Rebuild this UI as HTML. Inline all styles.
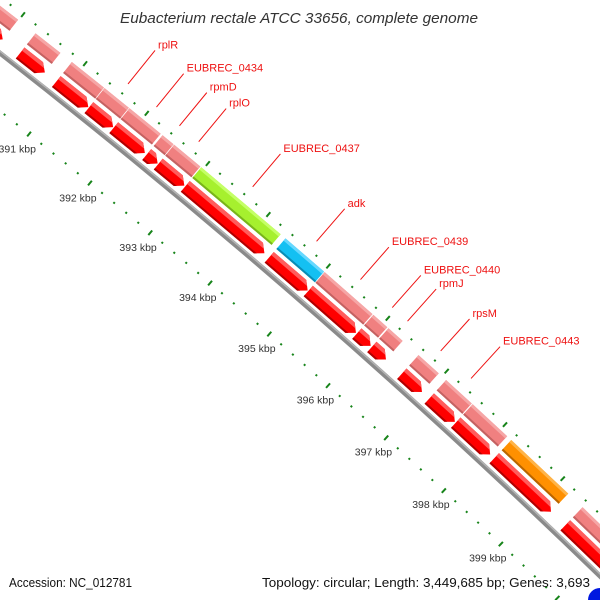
<!DOCTYPE html>
<html><head><meta charset="utf-8"><style>
html,body{margin:0;padding:0;background:#fff;width:600px;height:600px;overflow:hidden;}
svg{display:block;font-family:"Liberation Sans",sans-serif;overflow:hidden;}
</style></head><body>
<svg id="map" width="600" height="600" viewBox="0 0 600 600" xmlns="http://www.w3.org/2000/svg">
<rect x="0" y="0" width="600" height="600" fill="#fff"/>
<g id="rulers"></g>
<g id="backbone"></g>
<g id="features"></g>
<g id="labels"></g>
<text x="120" y="23" font-size="15" font-style="italic" fill="#333" textLength="358" lengthAdjust="spacingAndGlyphs">Eubacterium rectale ATCC 33656, complete genome</text>
<text x="9" y="587" font-size="13" fill="#111" textLength="123" lengthAdjust="spacingAndGlyphs">Accession: NC_012781</text>
<text x="262" y="587" font-size="13" fill="#111" textLength="328" lengthAdjust="spacingAndGlyphs">Topology: circular; Length: 3,449,685 bp; Genes: 3,693</text>
<circle cx="600" cy="600" r="12" fill="#0018e0"/>
</svg>
<script>
// ---- data ----
const geneStarts = [389000, 390270, 390855, 391385, 391790, 392330, 392520, 392965, 394360, 395015, 395835, 396090, 396600, 397070, 397525, 398190, 399430];
const geneEnds   = [389990, 390670, 391375, 391780, 392300, 392510, 392950, 394280, 395005, 395820, 396070, 396330, 396945, 397510, 398120, 399180, 400500];
const geneCategory = ['pink','pink','pink','pink','pink','pink','pink','green','blue','pink','pink','pink','pink','pink','pink','orange','pink'];
const labelGeneIndex = [3, 4, 5, 6, 7, 8, 9, 10, 11, 12, 13];
const labelNames = ['rplR', 'EUBREC_0434', 'rpmD', 'rplO', 'EUBREC_0437', 'adk', 'EUBREC_0439', 'EUBREC_0440', 'rpmJ', 'rpsM', 'EUBREC_0443'];
const rulerStart = 388000;
const rulerEnd = 402000;
const minorStep = 200;
const majorStep = 1000;

// ---- axis (circular map) ----
const CX = -4554, CY = 5884;
function ang(bp){ return (-51.443 + (bp - 391000) * 0.000609) * Math.PI / 180; }
function pt(r, bp){ const a = ang(bp); return [CX + r * Math.cos(a), CY + r * Math.sin(a)]; }
function ptsStr(list){ return list.map(p => p[0].toFixed(2) + ',' + p[1].toFixed(2)).join(' '); }
const NS = 'http://www.w3.org/2000/svg';
function mk(tag, attrs, parent){ const e = document.createElementNS(NS, tag); for (const k in attrs) e.setAttribute(k, attrs[k]); parent.appendChild(e); return e; }

const colors = {
  pink:   ['#f08080', '#f6a6a6', '#c46262'],
  green:  ['#a6f02e', '#c4ff66', '#78b41c'],
  blue:   ['#14c0f2', '#66d8ff', '#0a8cb4'],
  orange: ['#ff9000', '#ffb448', '#b86400'],
  red:    ['#ff0000', '#ff5c5c', '#b00000']
};

// ---- backbone ----
const bb = document.getElementById('backbone');
function arcPath(r, b1, b2){ const p1 = pt(r, b1), p2 = pt(r, b2); return 'M' + p1[0] + ' ' + p1[1] + ' A' + r + ' ' + r + ' 0 0 1 ' + p2[0] + ' ' + p2[1]; }
let e = mk('path', {d: arcPath(7398.5, rulerStart, rulerEnd), stroke: '#8a8a8a', 'stroke-width': 5, fill: 'none'}, bb);


e = mk('path', {d: arcPath(7400, rulerStart, rulerEnd), stroke: '#b4b4b4', 'stroke-width': 1.5, fill: 'none'}, bb);



// ---- rulers ----
const rg = document.getElementById('rulers');
for (let bp = rulerStart; bp <= rulerEnd; bp += minorStep) {
  const major = bp % majorStep === 0;
  const len = major ? 6 : 2;
  let a = pt(7353 - len / 2, bp), b = pt(7353 + len / 2, bp);
  e = mk('line', {x1: a[0], y1: a[1], x2: b[0], y2: b[1], stroke: '#17841a', 'stroke-width': 2}, rg);
  
  
  a = pt(7443 - len / 2, bp); b = pt(7443 + len / 2, bp);
  e = mk('line', {x1: a[0], y1: a[1], x2: b[0], y2: b[1], stroke: '#17841a', 'stroke-width': 2}, rg);
  
  
  if (major) {
    const c = pt(7334, bp);
    e = mk('text', {x: c[0], y: c[1] + 3.5, 'text-anchor': 'middle', 'font-size': 10.5, fill: '#333'}, rg);
    e.textContent = (bp / 1000) + ' kbp';
    
    
  }
}

// ---- features ----
const fg = document.getElementById('features');
function band(r1, r2, s, en, col, name){
  let p = mk('polygon', {points: ptsStr([pt(r1, s), pt(r2, s), pt(r2, en), pt(r1, en)]), fill: col[0]}, fg);
  
  
  p = mk('polygon', {points: ptsStr([pt(r2 - 3, s), pt(r2, s), pt(r2, en), pt(r2 - 3, en)]), fill: col[1]}, fg);
  
  
  p = mk('polygon', {points: ptsStr([pt(r1, s), pt(r1 + 2, s), pt(r1 + 2, en), pt(r1, en)]), fill: col[2]}, fg);
  
  
}
function arrow(r1, r2, s, en, col, name){
  const head = Math.min(100, en - s);
  const hs = en - head, rm = (r1 + r2) / 2;
  let p = mk('polygon', {points: ptsStr([pt(r1, s), pt(r2, s), pt(r2, hs), pt(rm, en), pt(r1, hs)]), fill: col[0]}, fg);
  
  
  p = mk('polygon', {points: ptsStr([pt(r2 - 4, s), pt(r2, s), pt(r2, hs), pt(r2 - 4, hs + (head * 4 / 7))]), fill: col[1]}, fg);
  
  
  p = mk('polygon', {points: ptsStr([pt(r1, s), pt(r1 + 2, s), pt(r1 + 2, hs + head * 2 / 7), pt(r1, hs)]), fill: col[2]}, fg);
  
  
}
for (let i = 0; i < geneStarts.length; i++) {
  band(7422, 7436, geneStarts[i], geneEnds[i], colors[geneCategory[i]], 'category-feature-' + i);
  arrow(7404, 7418, geneStarts[i], geneEnds[i], colors.red, 'gene-arrow-' + i);
}

// ---- labels ----
const lg = document.getElementById('labels');
for (let j = 0; j < labelNames.length; j++) {
  const gi = labelGeneIndex[j];
  const mid = (geneStarts[gi] + geneEnds[gi]) / 2;
  const a = pt(7454, mid), b = pt(7497, mid);
  e = mk('line', {x1: a[0], y1: a[1], x2: b[0], y2: b[1], stroke: '#ee1111', 'stroke-width': 1}, lg);
  
  
  e = mk('text', {x: b[0] + 3, y: b[1] - 2, 'font-size': 11, fill: '#ee1111'}, lg);
  e.textContent = labelNames[j];
  
  
}
</script>
</body></html>
